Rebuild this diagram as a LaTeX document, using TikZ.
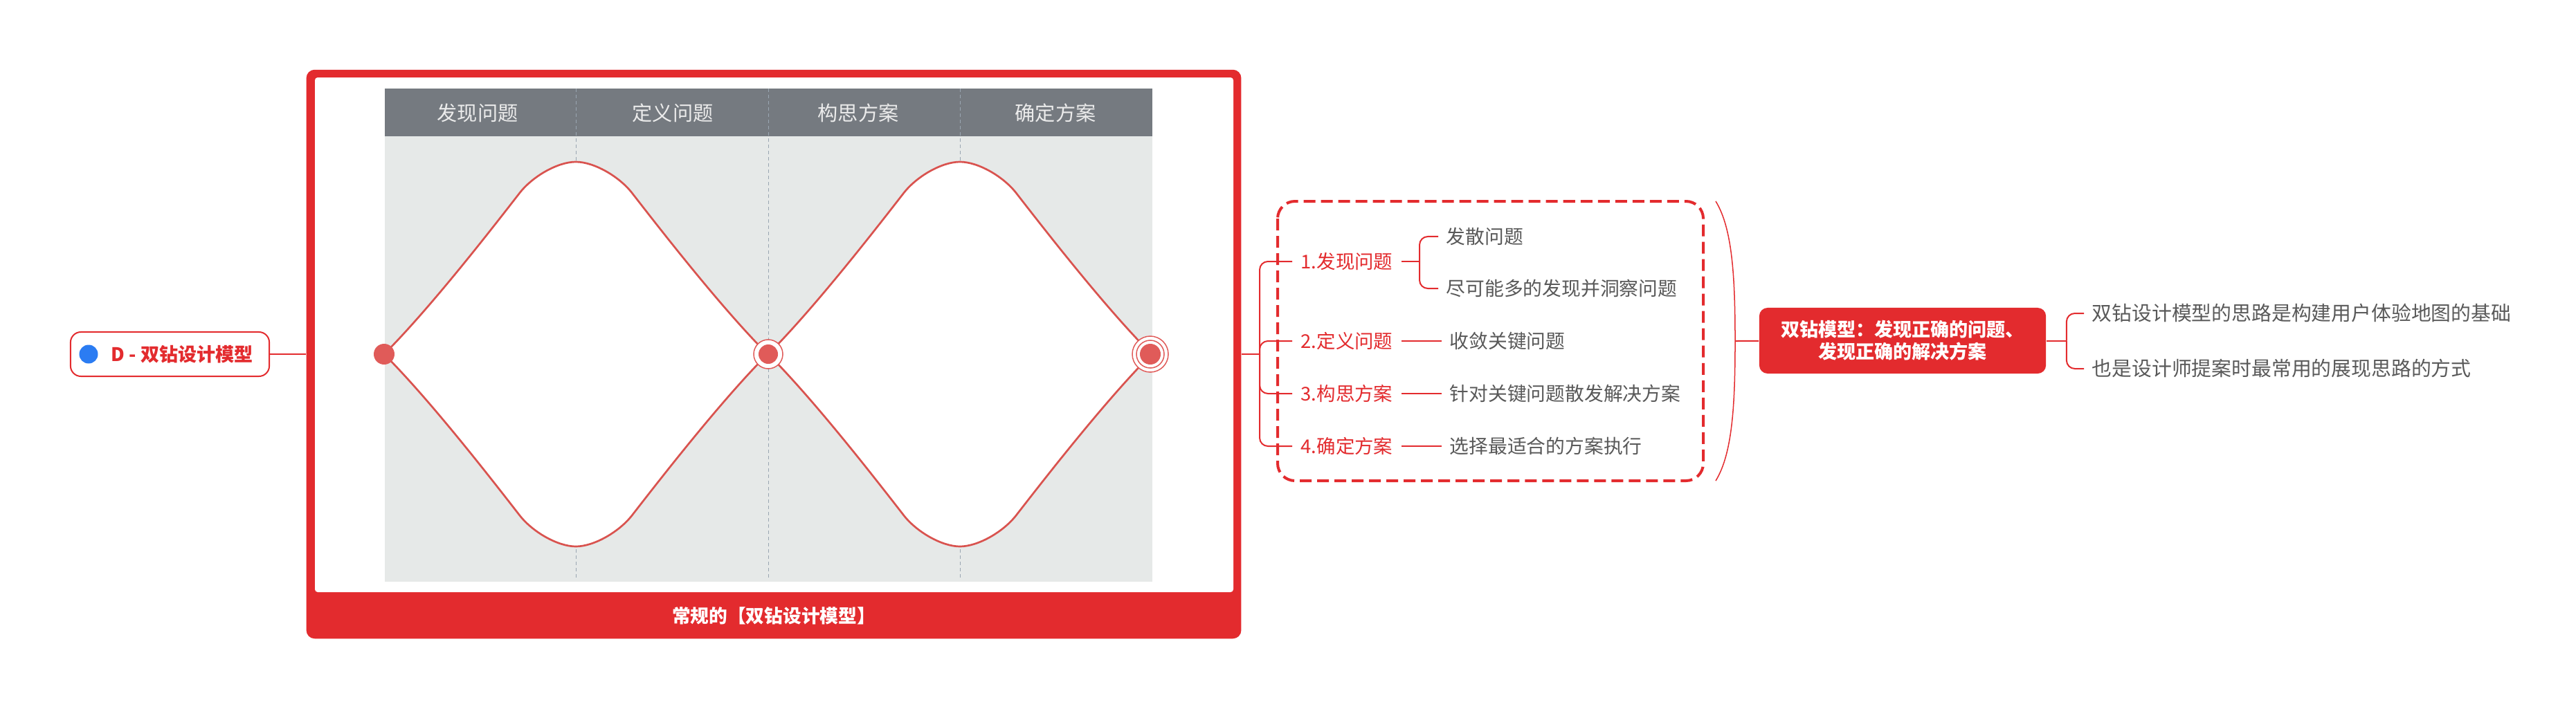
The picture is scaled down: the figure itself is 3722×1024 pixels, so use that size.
\documentclass[tikz,border=0pt]{standalone}
\usepackage{fontspec}
\setmainfont{Noto Sans CJK SC}
\usetikzlibrary{calc,positioning}
\definecolor{mapred}{HTML}{E32B2E}
\definecolor{dotred}{HTML}{E05B59}
\definecolor{curvered}{HTML}{D9534F}
\definecolor{headgray}{HTML}{757A80}
\definecolor{panelgray}{HTML}{E6E9E8}
\definecolor{leafgray}{HTML}{595959}
\definecolor{rootblue}{HTML}{2B7CF2}
\definecolor{gridblue}{HTML}{9AA6B2}
\tikzset{
  rootbox/.style={
    rectangle,
    rounded corners=1.5mm,
    draw=mapred, line width=0.2mm,
    fill=white,
    minimum width=2.87cm,
    minimum height=0.64cm},
  rootdot/.style={circle, fill=rootblue, minimum size=2.7mm, inner sep=0pt},
  roottext/.style={anchor=west, inner sep=0pt, text=mapred,
    font=\fontsize{7.7pt}{9pt}\selectfont\bfseries},
  picframe/.style={
    rectangle,
    rounded corners=1.2mm,
    fill=mapred,
    minimum width=13.5cm,
    minimum height=8.22cm,
    inner sep=0pt},
  captionbar/.style={text=white, font=\fontsize{7.6pt}{9pt}\selectfont\bfseries},
  colhead/.style={text=white!92!black, font=\fontsize{8.3pt}{10pt}\selectfont},
  gridline/.style={draw=gridblue, line width=0.1mm, dash pattern=on 0.5mm off 0.4mm},
  diamondedge/.style={draw=curvered, line width=0.27mm, fill=white},
  enddot/.style={circle, fill=dotred, minimum size=3mm, inner sep=0pt},
  ring/.style={circle, draw=dotred, line width=0.15mm, fill=white, inner sep=0pt},
  line/.style={draw=mapred, line width=0.2mm},
  stage/.style={anchor=west, inner sep=1.2mm, text=mapred,
    font=\fontsize{7.8pt}{9pt}\selectfont},
  leaf/.style={anchor=west, inner sep=1.1mm, text=leafgray,
    font=\fontsize{7.9pt}{9pt}\selectfont},
  boundary/.style={draw=mapred, line width=0.4mm,
    dash pattern=on 1.7mm off 0.8mm, rounded corners=2.5mm},
  keybox/.style={
    rectangle,
    rounded corners=1.2mm,
    fill=mapred,
    text=white,
    minimum width=4.14cm,
    minimum height=0.95cm,
    align=center,
    font=\fontsize{7.7pt}{9.1pt}\selectfont\bfseries},
  note/.style={anchor=west, inner sep=1.1mm, text=leafgray,
    font=\fontsize{8.2pt}{10pt}\selectfont},
}
\begin{document}
\begin{tikzpicture}
  [x=0.01cm, y=-0.01cm,
  node distance=0.58cm]
  \path[use as bounding box, fill=white] (0,0) rectangle (3722,1024);
  % picture topic
  \node[picframe] (frame) at (1118,512) {};
  \fill[white, rounded corners=0.4mm] (455,112) rectangle (1782,856);
  \node[captionbar] (cap) at (1118,890) {常规的【双钻设计模型】};
  \fill[panelgray] (556,128) rectangle (1665,841);
  \fill[headgray] (556,128) rectangle (1665,197);
  \foreach \gx in {832,1110,1387}
    \draw[gridline] (\gx,128) -- (\gx,836);
  \foreach \sx in {555,1110}
    \draw[diamondedge, shift={(\sx,512)}] (0,0)
      .. controls (65,-65) and (150,-174) .. (195,-232)
      .. controls (214,-257) and (251,-278) .. (277,-278)
      .. controls (303,-278) and (340,-257) .. (359,-232)
      .. controls (404,-174) and (489,-65) .. (554,0)
      .. controls (489,65) and (404,174) .. (359,232)
      .. controls (340,257) and (303,278) .. (277,278)
      .. controls (251,278) and (214,257) .. (195,232)
      .. controls (150,174) and (65,65) .. (0,0) -- cycle;
  \foreach \hx/\htext in {690/发现问题,972/定义问题,1240/构思方案,1525/确定方案}
    \node[colhead] (head\hx) at (\hx,163) {\htext};
  \node[enddot] (dotL) at (555,512) {};
  \node[ring, minimum size=4.2mm] (ringM) at (1110,512) {};
  \node[enddot, minimum size=2.8mm] (dotM) at (1110,512) {};
  \node[ring, minimum size=5.2mm] (ringRout) at (1662,512) {};
  \node[ring, minimum size=4mm] (ringRin) at (1662,512) {};
  \node[enddot] (dotR) at (1662,512) {};
  % root
  \node[rootbox] (root) at (245.5,512) {};
  \node[rootdot] (rootdot) at (128,512) {};
  \node[roottext] (roottext) at (160,512) {D - 双钻设计模型};
  \draw[line] (root) -- (frame);
  % stages
  \coordinate (fork) at (1820,512);
  \node[stage] (find) at (1867,378) {1.发现问题};
  \node[stage] (define) at (1867,493) {2.定义问题};
  \node[stage] (ideate) at (1867,569) {3.构思方案};
  \node[stage] (decide) at (1867,645) {4.确定方案};
  \draw[line] (frame.east) -- (fork);
  \foreach \st in {find,define,ideate,decide}
    \draw[line, rounded corners=1.2mm] (fork) |- (\st.west);
  \node[leaf, right=0.53cm of find, yshift=3.6mm] (diverge) {发散问题};
  \node[leaf, right=0.53cm of find, yshift=-3.9mm] (observe) {尽可能多的发现并洞察问题};
  \coordinate[right=0.26cm of find] (forkfind);
  \draw[line] (find) -- (forkfind);
  \foreach \lf in {diverge,observe}
    \draw[line, rounded corners=1.2mm] (forkfind) |- (\lf.west);
  \node[leaf, right=of define] (converge) {收敛关键问题};
  \node[leaf, right=of ideate] (solve) {针对关键问题散发解决方案};
  \node[leaf, right=of decide] (execute) {选择最适合的方案执行};
  \draw[line] (define) -- (converge);
  \draw[line] (ideate) -- (solve);
  \draw[line] (decide) -- (execute);
  \draw[boundary] (1846,291) rectangle (2461,695);
  % summary
  \draw[line, line width=0.15mm] (2479,291) .. controls (2503,330) and (2507,400) .. (2507,493)
    .. controls (2507,586) and (2503,656) .. (2479,695);
  \coordinate (sumtip) at (2507,493);
  \node[keybox] (model) at (2749,492.5) {双钻模型：发现正确的问题、\\发现正确的解决方案};
  \draw[line] (sumtip) -- (model);
  \coordinate[right=0.29cm of model] (forkmodel);
  \node[note] (base) at (3011,453) {双钻设计模型的思路是构建用户体验地图的基础};
  \node[note] (habit) at (3011,533) {也是设计师提案时最常用的展现思路的方式};
  \draw[line] (model) -- (forkmodel);
  \foreach \nt in {base,habit}
    \draw[line, rounded corners=1.2mm] (forkmodel) |- (\nt.west);
\end{tikzpicture}
\end{document}
